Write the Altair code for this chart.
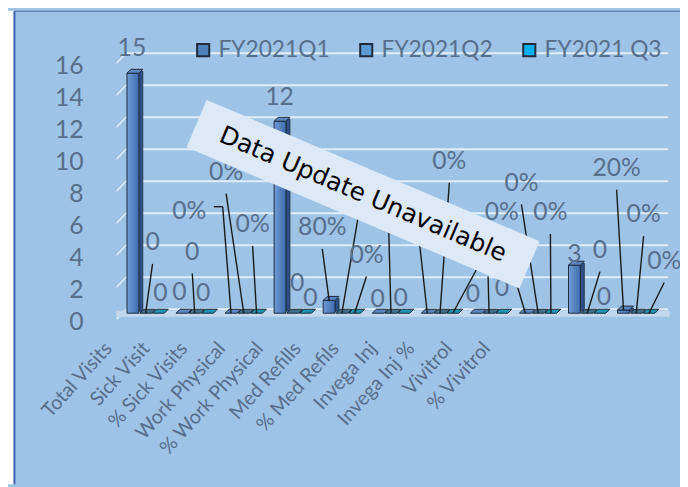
import json
import altair as alt
import pandas as pd

# ---------------- data ----------------
categories = ["Total Visits", "Sick Visit", "% Sick Visits", "Work Physical",
              "% Work Physical", "Med  Refills", "% Med Refils", "Invega Inj",
              "Invega Inj %", "Vivitrol", "% Vivitrol"]
series = ["FY2021Q1", "FY2021Q2", "FY2021 Q3"]
q1 = [15, 0, 0, 12, 0.8, 0, 0, 0, 0, 3, 0.2]
q2 = [0, 0, 0, 0, 0, 0, 0, 0, 0, 0, 0]
q3 = [0, 0, 0, 0, 0, 0, 0, 0, 0, 0, 0]
y_ticks = [0, 2, 4, 6, 8, 10, 12, 14, 16]

# data-label placement (category-relative x, value-unit y)
lbl_dx_q1 = [-0.28, -0.31, -1.11, -0.27, -0.40, -0.27, -0.42, -0.33, -0.74, -0.26, -0.40]
lbl_y_q1 = [16.6, 1.30, 6.36, 13.52, 5.37, 0.86, 5.80, 1.17, 6.30, 3.70, 9.07]
lbl_dx_q2 = [0.14, -0.05, -0.36, 0.09, 0.34, -0.05, 0.19, -0.02, -0.34, 0.26, 0.15]
lbl_y_q2 = [4.44, 3.83, 8.83, 1.91, 7.53, 7.04, 9.51, 3.64, 8.15, 3.95, 6.17]
lbl_dx_q3 = [0.30, 0.17, 0.18, 0.36, 0.50, 0.20, 0.83, 0.26, 0.25, 0.34, 0.57]
lbl_y_q3 = [1.23, 1.23, 5.56, 0.93, 3.64, 0.93, 4.57, 1.60, 6.30, 0.99, 3.27]
# leader lines: 0 none, 1 from below label, 2 elbow from right side
lead_q1 = [0, 0, 2, 0, 1, 0, 1, 0, 1, 0, 1]
lead_q2 = [1, 1, 1, 0, 1, 1, 1, 1, 1, 1, 1]
lead_q3 = [0, 0, 1, 0, 1, 0, 1, 0, 1, 0, 1]
# labels that sit fully under the "Data Update Unavailable" banner
hidden_labels = [("FY2021Q2", "% Work Physical"), ("FY2021Q2", "Med  Refills"),
                 ("FY2021Q1", "% Med Refils"), ("FY2021 Q3", "% Med Refils"),
                 ("FY2021Q2", "Invega Inj")]

# ---------------- style ----------------
TEXT = "#566f8d"
EDGE = "#1d2b3c"
BG = "#9dc3e6"
legend_colors = ["#4f81bd", "#5b9bd5", "#00b0f0"]
top_colors = ["#5a86c0", "#40708e", "#1c93b0"]
offsets = [-0.26, 0.0, 0.26]
X = alt.Scale(domain=[-0.55, 10.65], nice=False, zero=False)
Y = alt.Scale(domain=[0, 16], nice=False, zero=False)
YAX = alt.Axis(orient="left", values=y_ticks, grid=False, ticks=False,
               domain=False, title=None, labelFont="Lato", labelFontSize=25,
               labelColor=TEXT, labelPadding=31, labelOffset=8,
               labelOverlap=False, labelFlush=False, labelBound=False)

vals_all = [q1, q2, q3]
dx_all = [lbl_dx_q1, lbl_dx_q2, lbl_dx_q3]
ly_all = [lbl_y_q1, lbl_y_q2, lbl_y_q3]
lead_all = [lead_q1, lead_q2, lead_q3]

rows = []
for s, name in enumerate(series):
    for i, cat in enumerate(categories):
        v = vals_all[s][i]
        pct = "%" in cat
        text = f"{round(v * 100)}%" if pct else f"{v:g}"
        rows.append(dict(cat=cat, series=name, value=v, xpos=i + offsets[s],
                         label=text, lx=i + dx_all[s][i], ly=ly_all[s][i],
                         lead=lead_all[s][i],
                         shown=(name, cat) not in hidden_labels))
df = pd.DataFrame(rows)

segs = []
for r in rows:
    if r["lead"] == 1:
        segs.append(dict(x1=r["lx"], y1=r["ly"] - 1.35, x2=r["xpos"], y2=r["value"]))
    elif r["lead"] == 2:
        ex, ey = r["lx"] + 0.68, r["ly"] + 0.3
        segs.append(dict(x1=r["lx"] + 0.5, y1=ey, x2=ex, y2=ey))
        segs.append(dict(x1=ex, y1=ey, x2=r["xpos"], y2=r["value"]))
seg_df = pd.DataFrame(segs)

grid_df = pd.DataFrame({"v": y_ticks})
grid_df["yb"] = grid_df["v"] + 0.25
grid_df["yf"] = grid_df["v"] - 0.37
grid_df["xb"] = -0.40
grid_df["xf"] = -0.594
grid_df["xe"] = 10.65

one = pd.DataFrame({"k": [0]})


def xq(field):
    return alt.X(field, type="quantitative", scale=X, axis=None)


def yq(field):
    return alt.Y(field, type="quantitative", scale=Y, axis=YAX)


# ---------------- frame ----------------
white_strip = alt.Chart(one).mark_rule(color="white", strokeWidth=6).encode(
    x=alt.value(-104), y=alt.value(-47), y2=alt.value(432))
left_edge = alt.Chart(one).mark_rule(color="#3c5fae", strokeWidth=2).encode(
    x=alt.value(-100.5), y=alt.value(-46.5), y2=alt.value(432))
top_edge = alt.Chart(one).mark_rule(color="#4a6d9c", strokeWidth=1).encode(
    x=alt.value(-101), x2=alt.value(573), y=alt.value(-46.5))

# ---------------- grid & floor ----------------
grid = alt.Chart(grid_df).mark_rule(color="#e2ecf7", strokeWidth=2.2).encode(
    x=xq("xb"), x2="xe:Q", y=yq("yb"))
grid_slant = alt.Chart(grid_df).mark_rule(color="#e2ecf7", strokeWidth=1.5).encode(
    x=xq("xf"), x2="xb:Q", y=yq("yf"), y2="yb:Q")
floor_df = pd.DataFrame({"fx1": [-0.6], "fx2": [10.68], "fy": [-0.03]})
floor = alt.Chart(floor_df).mark_rule(color="#c3d8ee", strokeWidth=6).encode(
    x=xq("fx1"), x2="fx2:Q", y=yq("fy"))

# ---------------- bars ----------------
pos = df[df["value"] > 0]
front_grad = alt.LinearGradient(
    gradient="linear", x1=0, x2=1, y1=0, y2=0,
    stops=[alt.GradientStop(color="#6f9cd6", offset=0),
           alt.GradientStop(color="#3d6bae", offset=1)])
side = alt.Chart(pos).mark_bar(width=4, xOffset=8, yOffset=-2, fill="#2c5085",
                               stroke=EDGE, strokeWidth=0.8).encode(
    x=xq("xpos"), y=yq("value"))
front = alt.Chart(pos).mark_bar(width=12, fill=front_grad, stroke=EDGE,
                                strokeWidth=1).encode(
    x=xq("xpos"), y=yq("value"))
tops = []
for s, name in enumerate(series):
    tops.append(alt.Chart(df[df["series"] == name]).mark_point(
        shape="M-0.75,0L0.75,0L1.25,-0.5L-0.25,-0.5Z", size=256, filled=True,
        opacity=1, fill=top_colors[s], stroke=EDGE, strokeWidth=1).encode(
        x=xq("xpos"), y=yq("value")))

legend_layer = alt.Chart(df).mark_point(filled=True, size=0, opacity=1).encode(
    x=xq("xpos"), y=yq("value"),
    color=alt.Color("series:N", scale=alt.Scale(domain=series, range=legend_colors),
                    legend=alt.Legend(orient="none", legendX=79, legendY=-19,
                                      direction="horizontal", title=None,
                                      labelFont="Lato", labelFontSize=23,
                                      labelColor=TEXT, symbolType="square",
                                      symbolSize=150, symbolStrokeColor=EDGE,
                                      symbolStrokeWidth=2, symbolOpacity=1,
                                      gridAlign="all", columnPadding=19,
                                      labelOffset=4)))

# ---------------- labels & leaders ----------------
leaders = alt.Chart(seg_df).mark_rule(color="#1a1a1a", strokeWidth=1.4).encode(
    x=xq("x1"), x2="x2:Q", y=yq("y1"), y2="y2:Q")
labels = alt.Chart(df[df["shown"]]).mark_text(
    font="Lato", fontSize=25, color=TEXT, align="center", baseline="middle").encode(
    x=xq("lx"), y=yq("ly"), text="label:N")

# ---------------- banner ----------------
ban_df = pd.DataFrame({"bx": [4.431], "by": [7.44]})
banner = alt.Chart(ban_df).mark_point(
    shape="M-1,-0.142L1,-0.142L1,0.142L-1,0.142Z", size=133956, angle=23,
    filled=True, fill="#dde9f6", opacity=1, strokeWidth=0).encode(
    x=xq("bx"), y=yq("by"))
banner_text = alt.Chart(ban_df).mark_text(
    text="Data Update Unavailable", font="DejaVu Sans", fontSize=25, angle=23,
    color="black", align="center", baseline="middle").encode(
    x=xq("bx"), y=yq("by"))

inner = alt.layer(white_strip, left_edge, top_edge, grid, grid_slant, floor,
                  side, front, *tops, leaders, labels, banner, banner_text,
                  legend_layer)

# ---------------- category axis ----------------
cat_df = pd.DataFrame({"ci": list(range(len(categories)))})
cat_layer = alt.Chart(cat_df).mark_point(opacity=0).encode(
    x=alt.X("ci:Q", scale=alt.Scale(domain=[-0.5, 14.28], nice=False, zero=False),
            axis=alt.Axis(orient="bottom", values=list(range(len(categories))),
                          labelExpr=json.dumps(categories) + "[datum.value]",
                          labelAngle=-48, labelAlign="right", labelBaseline="middle",
                          labelOffset=-25, labelPadding=32, labelFont="Lato",
                          labelFontSize=20, labelColor=TEXT, ticks=False,
                          domain=False, grid=False, title=None, labelOverlap=False,
                          labelFlush=False, labelBound=False, labelLimit=400)),
    y=alt.value(0))

chart = alt.layer(inner, cat_layer).resolve_scale(x="independent").properties(
    width=566, height=259,
    padding={"left": 107, "top": 47, "right": 7, "bottom": 173},
    autosize=alt.AutoSizeParams(type="none"),
    background=BG,
).configure_view(stroke=None)

chart.save("out.html", embed_options={"renderer": "svg", "actions": False})
